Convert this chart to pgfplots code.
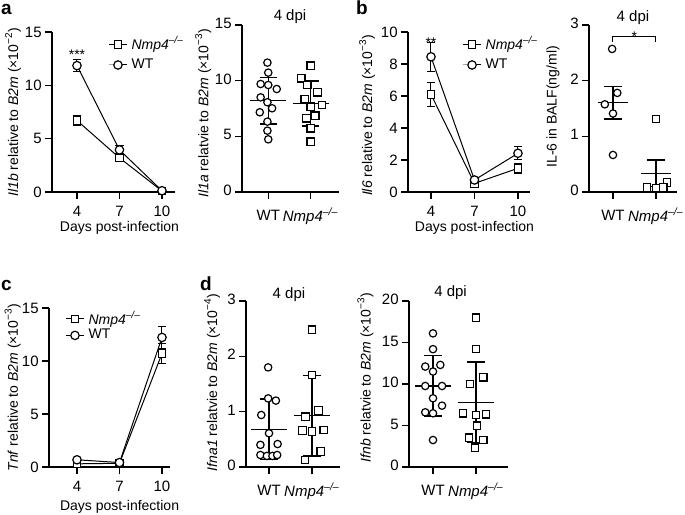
\documentclass[border=0pt]{standalone}
\usepackage{fontspec}
\setmainfont{Liberation Sans}
\usepackage{pgfplots}
\pgfplotsset{compat=1.18}

\newcommand{\ko}{\textit{Nmp4}\textsuperscript{\textit{–/–}}}
\newcommand{\xten}[1]{(×10\textsuperscript{−#1})}

\pgfplotsset{
  prism/.style={
    scale only axis, clip=false,
    axis lines=left, axis line style={-, line width=0.6pt},
    tick align=outside, major tick length=3.5pt,
    tick style={line width=0.6pt, black},
    ymin=0,
    /pgf/number format/assume math mode=true,
    ticklabel style={font=\fontsize{7.5}{9}\selectfont},
    yticklabel style={inner xsep=1.5pt},
    label style={font=\fontsize{7}{8.4}\selectfont},
    ylabel style={anchor=center},
    xlabel style={anchor=center},
    title style={font=\fontsize{7.5}{9}\selectfont, anchor=center},
  },
  lineplot/.style={prism, xtick={4,7,10},
    legend style={draw=none, fill=none, anchor=north west, inner sep=0pt,
      font=\fontsize{7}{8.4}\selectfont, cells={anchor=west}, row sep=-1pt},
    legend image code/.code={\draw[mark repeat=2, mark phase=2]
      plot coordinates {(0cm,0cm) (0.16cm,0cm) (0.32cm,0cm)};},
  },
  scat/.style={prism, xtick={1,2}, xticklabels={WT,\ko},
    typeset ticklabels with strut,
    xticklabel style={yshift=-1pt}},
  kom/.style={black, line width=0.5pt, mark=square*, mark size=1.9pt,
    mark options={solid, fill=white, draw=black, line width=0.6pt}},
  wtm/.style={black, line width=0.5pt, mark=*, mark size=2.1pt,
    mark options={solid, fill=white, draw=black, line width=0.6pt}},
  ebar/.style={error bars/y dir=both, error bars/y explicit,
    error bars/error bar style={line width=0.5pt, black},
    error bars/error mark options={rotate=90, mark size=2.1pt, line width=0.5pt, black}},
  sdbar/.style={black, mark=none, error bars/y dir=both, error bars/y explicit,
    error bars/error bar style={line width=0.6pt, black},
    error bars/error mark options={rotate=90, mark size=4.3pt, line width=0.6pt, black}},
  dot/.style={only marks, mark size=1.85pt},
}

\begin{document}
\begin{tikzpicture}
\useasboundingbox (0,0) rectangle (342.5pt,257pt);

% panel letters
\node[font=\fontsize{9.5}{11}\selectfont\bfseries] at (3.2pt,252.5pt) {a};
\node[font=\fontsize{9.5}{11}\selectfont\bfseries] at (181pt,253pt) {b};
\node[font=\fontsize{9.5}{11}\selectfont\bfseries] at (3.2pt,114.5pt) {c};
\node[font=\fontsize{9.5}{11}\selectfont\bfseries] at (103pt,115pt) {d};

% ---- a: Il1b time course
\begin{axis}[lineplot, at={(26pt,161pt)}, anchor=south west,
  width=61.5pt, height=80pt, xmin=2.236, xmax=10.92, ymax=15, ytick={0,5,10,15},
  ylabel={\textit{Il1b} relative to \textit{B2m} \xten{2}},
  ylabel style={at={(axis description cs:-0.317,0.5)}},
  xlabel={Days post-infection},
  xlabel style={at={(axis description cs:0.549,-0.225)}},
  legend style={at={(0.455,1.0)}}]
\addplot[kom, ebar] coordinates {(4,6.7) +- (0,0.5) (7,3.2) +- (0,0.3) (10,0.1) +- (0,0.05)};
\addplot[wtm, ebar] coordinates {(4,11.85) +- (0,0.55) (7,3.95) +- (0,0.45) (10,0.12) +- (0,0.1)};
\legend{\ko, WT}
\node[font=\fontsize{7}{8}\selectfont, inner sep=0pt, anchor=base] at (axis cs:4,12.45) {***};
\end{axis}

% ---- a: Il1a scatter
\begin{axis}[scat, at={(121pt,161pt)}, anchor=south west,
  width=48.5pt, height=83.5pt, xmin=0.381, xmax=2.667, ymax=15, ytick={0,5,10,15},
  ylabel={\textit{Il1a} relatvie to \textit{B2m} \xten{3}},
  ylabel style={at={(axis description cs:-0.40,0.473)}},
  title={4 dpi}, title style={at={(axis description cs:0.495,0.976)}}]
\addplot[wtm, dot] coordinates {(0.98,11.62) (1.0,10.72) (0.82,9.70) (1.0,9.61) (1.2,9.25)
  (0.82,8.5) (0.98,8.06) (1.09,7.52) (0.8,7.16) (0.98,6.32) (0.98,5.51) (1.0,4.73)};
\addplot[kom, dot] coordinates {(2.0,11.35) (1.78,10.21) (1.92,9.61) (2.16,8.96) (1.86,8.36)
  (2.27,7.82) (2.0,7.67) (2.11,6.86) (1.9,6.62) (2.0,5.72) (2.0,4.52)};
\addplot[black, line width=0.6pt] coordinates {(0.58,8.19) (1.42,8.19)};
\addplot[sdbar] coordinates {(1,8.19) +- (0,2.08)};
\addplot[black, line width=0.6pt] coordinates {(1.58,7.95) (2.42,7.95)};
\addplot[sdbar] coordinates {(2,7.95) +- (0,2.02)};
\end{axis}

% ---- b: Il6 time course
\begin{axis}[lineplot, at={(204pt,161pt)}, anchor=south west,
  width=61pt, height=80pt, xmin=2.414, xmax=10.83, ymax=10, ytick={0,2,4,6,8,10},
  ylabel={\textit{Il6} relative to \textit{B2m} \xten{3}},
  ylabel style={at={(axis description cs:-0.336,0.48)}},
  xlabel={Days post-infection},
  xlabel style={at={(axis description cs:0.545,-0.225)}},
  legend style={at={(0.443,1.0)}}]
\addplot[kom, ebar] coordinates {(4,6.1) +- (0,0.75) (7,0.54) +- (0,0.08) (10,1.48) +- (0,0.3)};
\addplot[wtm, ebar] coordinates {(4,8.45) +- (0,0.9) (7,0.75) +- (0,0.12) (10,2.42) +- (0,0.42)};
\legend{\ko, WT}
\node[font=\fontsize{7}{8}\selectfont, inner sep=0pt, anchor=base] at (axis cs:4,9.05) {**};
\end{axis}

% ---- b: IL-6 in BALF
\begin{axis}[scat, at={(294.5pt,161pt)}, anchor=south west,
  width=44pt, height=83.5pt, xmin=0.442, xmax=2.49, ymax=3, ytick={0,1,2,3},
  ylabel={IL-6 in BALF(ng/ml)},
  ylabel style={at={(axis description cs:-0.41,0.51)}},
  title={4 dpi}, title style={at={(axis description cs:0.5,0.970)}}]
\addplot[wtm, dot] coordinates {(0.98,2.57) (1.1,1.78) (0.81,1.575) (1.0,1.41) (1.0,0.665)};
\addplot[kom, dot] coordinates {(2.0,1.31) (2.26,0.17) (1.79,0.08) (2.0,0.066) (2.17,0.08)};
\addplot[black, line width=0.6pt] coordinates {(0.64,1.605) (1.36,1.605)};
\addplot[sdbar] coordinates {(1,1.605) +- (0,0.295)};
\addplot[black, line width=0.6pt] coordinates {(1.65,0.335) (2.35,0.335)};
\addplot[sdbar] coordinates {(2,0.335) +- (0,0.24)};
\addplot[black, line width=0.5pt] coordinates {(1,2.70) (1,2.79) (2,2.79) (2,2.70)};
\node[font=\fontsize{7}{8}\selectfont, inner sep=0pt, anchor=base] at (axis cs:1.5,2.71) {*};
\end{axis}

% ---- c: Tnf time course
\begin{axis}[lineplot, at={(24.5pt,23.5pt)}, anchor=south west,
  width=60.5pt, height=79.5pt, xmin=2.024, xmax=10.565, ymax=15, ytick={0,5,10,15},
  ylabel={\textit{Tnf} relative to \textit{B2m} \xten{3}},
  ylabel style={at={(axis description cs:-0.30,0.5)}},
  xlabel={Days post-infection},
  xlabel style={at={(axis description cs:0.583,-0.252)}},
  legend style={at={(0.132,1.01)}, row sep=-3pt}]
\addplot[kom, ebar] coordinates {(4,0.3) +- (0,0.1) (7,0.35) +- (0,0.08) (10,10.7) +- (0,0.93)};
\addplot[wtm, ebar] coordinates {(4,0.68) +- (0,0.12) (7,0.42) +- (0,0.1) (10,12.22) +- (0,1.07)};
\legend{\ko, WT}
\end{axis}

% ---- d: Ifna1
\begin{axis}[scat, at={(123pt,23.5pt)}, anchor=south west,
  width=47pt, height=83pt, xmin=0.465, xmax=2.651, ymax=3, ytick={0,1,2,3},
  ylabel={\textit{Ifna1} relatvie to \textit{B2m} \xten{4}},
  ylabel style={at={(axis description cs:-0.36,0.51)}},
  title={4 dpi}, title style={at={(axis description cs:0.457,0.964)}}]
\addplot[wtm, dot] coordinates {(0.98,1.80) (0.98,1.24) (1.16,1.20) (0.82,0.94) (1.0,0.61)
  (0.8,0.40) (1.2,0.415) (0.8,0.217) (0.95,0.20) (1.08,0.20) (1.19,0.217)};
\addplot[kom, dot] coordinates {(2.0,2.48) (2.0,1.66) (1.85,0.91) (2.15,1.02) (1.78,0.66)
  (2.0,0.64) (2.27,0.67) (2.2,0.28) (1.84,0.13)};
\addplot[black, line width=0.6pt] coordinates {(0.58,0.68) (1.42,0.68)};
\addplot[sdbar] coordinates {(1,0.68) +- (0,0.55)};
\addplot[black, line width=0.6pt] coordinates {(1.58,0.93) (2.42,0.93)};
\addplot[sdbar] coordinates {(2,0.93) +- (0,0.73)};
\end{axis}

% ---- d: Ifnb
\begin{axis}[scat, at={(204.5pt,23.5pt)}, anchor=south west,
  width=49.5pt, height=83pt, xmin=0.442, xmax=2.744, ymax=20, ytick={0,5,10,15,20},
  ylabel={\textit{Ifnb} relatvie to \textit{B2m} \xten{3}},
  ylabel style={at={(axis description cs:-0.44,0.54)}},
  title={4 dpi}, title style={at={(axis description cs:0.42,0.976)}}]
\addplot[wtm, dot] coordinates {(1,16.1) (1,14.2) (0.82,12.1) (1.17,12.3) (1,11.5) (0.82,9.76)
  (1.21,9.76) (1,8.28) (1.21,7.39) (0.82,6.59) (1,6.47) (1,3.25)};
\addplot[kom, dot] coordinates {(2,18.0) (2,14.2) (2.17,10.8) (1.86,10.0) (1.7,6.47) (2,6.27)
  (2.23,6.35) (2.02,4.98) (1.84,3.54) (2.17,3.25) (1.98,2.33)};
\addplot[black, line width=0.6pt] coordinates {(0.58,9.77) (1.42,9.77)};
\addplot[sdbar] coordinates {(1,9.77) +- (0,3.63)};
\addplot[black, line width=0.6pt] coordinates {(1.58,7.79) (2.42,7.79)};
\addplot[sdbar] coordinates {(2,7.79) +- (0,4.85)};
\end{axis}
\end{tikzpicture}
\end{document}
